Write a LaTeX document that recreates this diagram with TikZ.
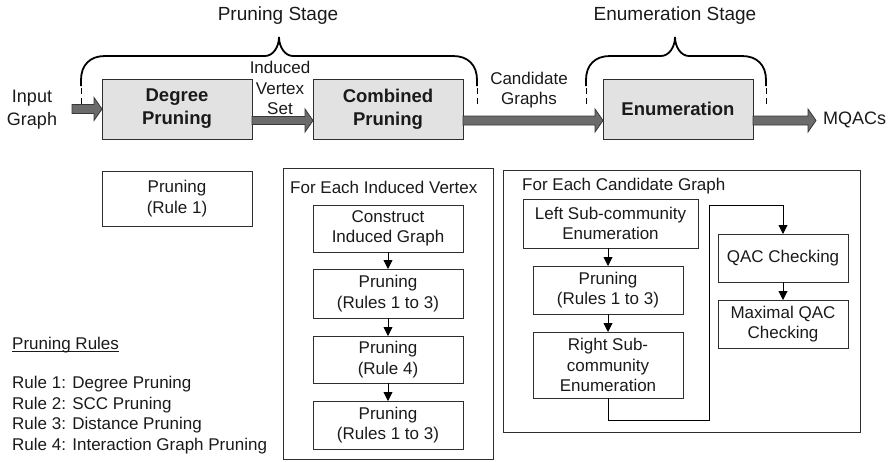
\documentclass[tikz,border=0pt]{standalone}
\usepackage{fontspec}
\setmainfont{Liberation Sans}
\usetikzlibrary{arrows.meta,calc}
\definecolor{boxline}{HTML}{2E2E2E}
\definecolor{boxfill}{HTML}{E2E2E2}
\definecolor{arrfill}{HTML}{6B6B6B}
\definecolor{arrline}{HTML}{383838}
\definecolor{txt}{HTML}{1A1A1A}
\newcommand{\nfont}{\fontsize{17}{20.5}\selectfont}
\newcommand{\bfont}{\fontsize{18.5}{23}\selectfont\bfseries}
\newcommand{\tfont}{\fontsize{19}{23}\selectfont}
\newcommand{\mfont}{\fontsize{18}{23}\selectfont}
\newcommand{\stagebrace}[3]{%
  \draw[bracepen] (#1,86) -- (#1,80) .. controls (#1,65) and (#1+9,56) .. (#1+24,56)
    -- (#2-14,56) .. controls (#2-6,56) and (#2,47) .. (#2,37)
    .. controls (#2,47) and (#2+6,56) .. (#2+14,56)
    -- (#3-24,56) .. controls (#3-9,56) and (#3,65) .. (#3,80) -- (#3,86);
  \draw[dashpen] (#1,88) -- (#1,107);
  \draw[dashpen] (#3,88) -- (#3,107);}
\newcommand{\blockarrow}[3]{%
  \path[blockpen] let \p1=#1, \p2=#2 in
    (\x1,{\y1+#3}) -- ({\x2-8pt},{\y1+#3}) -- ({\x2-8pt},{\y1+11.5pt}) -- (\x2,\y1)
    -- ({\x2-8pt},{\y1-11.5pt}) -- ({\x2-8pt},{\y1-#3}) -- (\x1,{\y1-#3}) -- cycle;}
\tikzset{
  stagebox/.style={draw=boxline, fill=boxfill, line width=1pt, minimum width=150pt,
    minimum height=60pt, font=\bfont, align=center, inner sep=0pt, outer sep=0pt, text=txt},
  stepbox/.style={draw=boxline, line width=1pt, font=\nfont, align=center,
    inner sep=0pt, outer sep=0pt, text=txt},
  groupbox/.style={draw=boxline, line width=1pt, inner sep=0pt, outer sep=0pt, anchor=north west},
  lbl/.style={font=\nfont, align=center, text=txt, inner sep=0pt},
  flow/.style={-{Triangle[length=9pt,width=9pt]}, line width=0.9pt, draw=black},
  bracepen/.style={line width=1.8pt, draw=black},
  dashpen/.style={line width=1pt, draw=black, dash pattern=on 6pt off 4pt},
  blockpen/.style={draw=arrline, fill=arrfill, line width=0.8pt},
}
\begin{document}
\begin{tikzpicture}[x=1pt,y=-1pt]
\useasboundingbox (0,0) rectangle (894,461);

% stage titles and braces
\node[lbl, font=\tfont] (pstage) at (278,16) {Pruning Stage};
\node[lbl, font=\tfont] (estage) at (675,16) {Enumeration Stage};
\stagebrace{81}{279}{477}
\stagebrace{586}{675}{766}

% main pipeline
\node[lbl, font=\mfont] (input) at (32,110) {Input\\Graph};
\node[stagebox] (deg) at (177,109) {Degree\\Pruning};
\node[stagebox] (comb) at (388,109) {Combined\\Pruning};
\node[stagebox] (enum) at (678,109) {Enumeration};
\node[lbl, font=\mfont, anchor=west] (out) at (823,120) {MQACs};
\node[lbl] (ivs) at (280,88) {Induced\\Vertex\\Set};
\node[lbl] (cand) at (529,90) {Candidate\\Graphs};
\coordinate (inarr) at (72,109);
\coordinate (outarr) at (816,120.5);

\blockarrow{(inarr)}{(deg.west)}{4.5pt}
\blockarrow{([yshift=-11.5pt]deg.east)}{([yshift=-11.5pt]comb.west)}{4pt}
\blockarrow{([yshift=-11.5pt]comb.east)}{([yshift=-11.5pt]enum.west)}{4.5pt}
\blockarrow{([yshift=-11.5pt]enum.east)}{(outarr)}{4.5pt}

% degree pruning detail
\node[stepbox, minimum width=150pt, minimum height=55pt] (rule1) at (177,198.5) {Pruning\\(Rule 1)};

% combined pruning detail
\node[groupbox, minimum width=210pt, minimum height=291pt] (ivbox) at (283,168) {};
\node[lbl, anchor=west] (ivlbl) at (290,187) {For Each Induced Vertex};
\node[stepbox, minimum width=150pt, minimum height=47pt] (cig) at (388,228.5) {Construct\\Induced Graph};
\node[stepbox, minimum width=150pt, minimum height=49pt] (p13a) at (388,293.5) {Pruning\\(Rules 1 to 3)};
\node[stepbox, minimum width=150pt, minimum height=47pt] (p4) at (388,359.5) {Pruning\\(Rule 4)};
\node[stepbox, minimum width=150pt, minimum height=48pt] (p13b) at (388,425) {Pruning\\(Rules 1 to 3)};
\draw[flow] (cig) -- (p13a);
\draw[flow] (p13a) -- (p4);
\draw[flow] (p4) -- (p13b);

% enumeration detail
\node[groupbox, minimum width=357pt, minimum height=262pt] (cgbox) at (503,170) {};
\node[lbl, anchor=west] (cglbl) at (522,186) {For Each Candidate Graph};
\node[stepbox, minimum width=175pt, minimum height=49pt] (lsce) at (610.5,223.5) {Left Sub-community\\Enumeration};
\node[stepbox, minimum width=150pt, minimum height=48pt] (p13c) at (608,290) {Pruning\\(Rules 1 to 3)};
\node[stepbox, minimum width=150pt, minimum height=66pt] (rsce) at (608,365) {Right Sub-\\community\\Enumeration};
\node[stepbox, minimum width=130pt, minimum height=48pt] (qac) at (783,258) {QAC Checking};
\node[stepbox, minimum width=130pt, minimum height=48pt] (mqac) at (783,324) {Maximal QAC\\Checking};
\coordinate (c1) at (709,420);
\coordinate (c2) at (709,205);
\draw[flow] (lsce.south -| p13c.north) -- (p13c.north);
\draw[flow] (p13c) -- (rsce);
\draw[flow] (rsce.south) |- (c1) -- (c2) -| (qac.north);
\draw[flow] (qac) -- (mqac);

% pruning rules legend
\node[lbl, anchor=base west] (prh) at (12,349) {Pruning Rules};
\draw[line width=0.8pt, draw=txt] ([yshift=-2.5pt]prh.base west) -- ([yshift=-2.5pt]prh.base east);
\node[lbl, anchor=west, align=left] (rules) at (12,415) {Rule 1: Degree Pruning\\Rule 2: SCC Pruning\\Rule 3: Distance Pruning\\Rule 4: Interaction Graph Pruning};
\end{tikzpicture}
\end{document}
